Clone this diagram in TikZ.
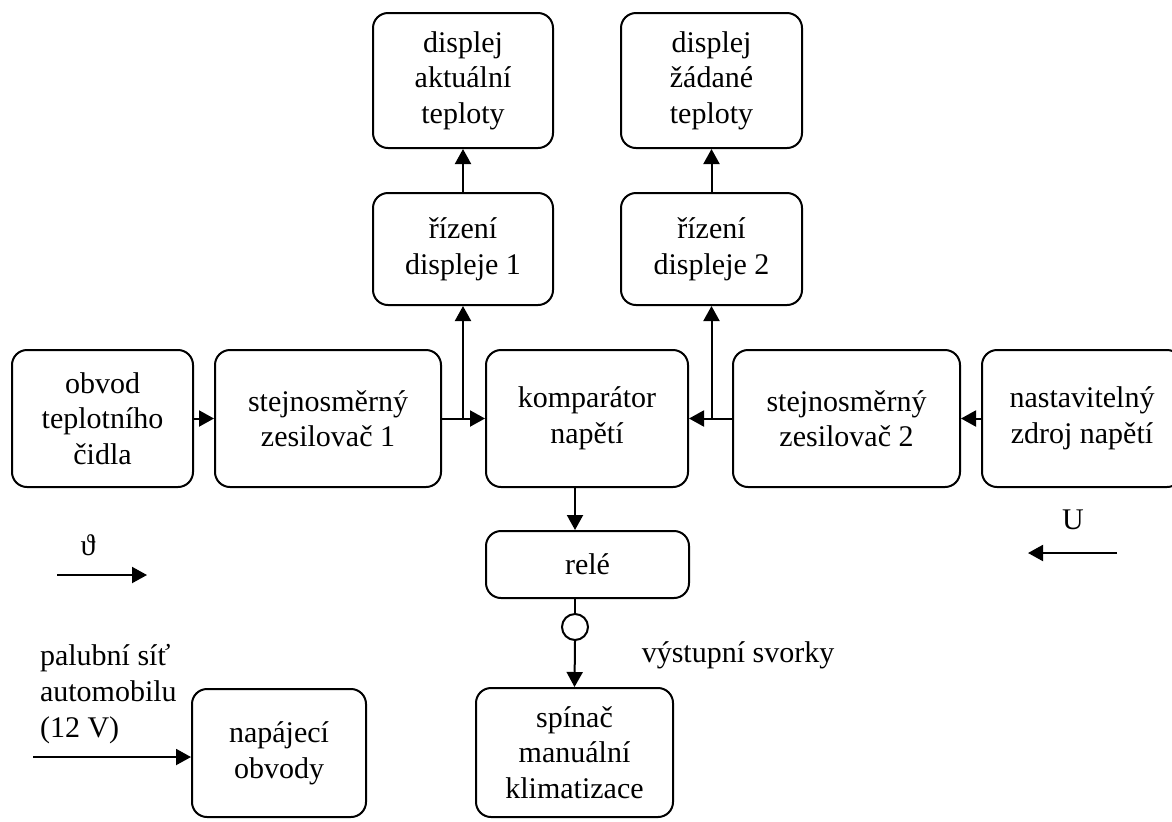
\documentclass[tikz,border=0pt]{standalone}
\usepackage{fontspec}
\setmainfont{Liberation Serif}
\usetikzlibrary{arrows.meta}
\begin{document}
\begin{tikzpicture}[x=0.5pt,y=-0.5pt,
    blok/.style={draw, line width=1pt, rounded corners=7.5pt, align=center,
                 inner sep=0pt, font=\fontsize{15}{17.8}\selectfont},
    sipka/.style={line width=1pt, -{Triangle[length=7.5pt,width=8pt]}},
    popis/.style={font=\fontsize{15}{17.8}\selectfont}]
    \useasboundingbox (0,0) rectangle (1172,821);

    % Top row: displays
    \node[blok, minimum width=90pt, minimum height=67.5pt] (disp1) at (463,80.5) {displej\\aktuální\\teploty};
    \node[blok, minimum width=90.5pt, minimum height=67.5pt] (disp2) at (711.5,80.5) {displej\\žádané\\teploty};

    % Display drivers
    \node[blok, minimum width=90pt, minimum height=56pt] (riz1) at (463,249) {řízení\\displeje 1};
    \node[blok, minimum width=90.5pt, minimum height=56pt] (riz2) at (711.5,249) {řízení\\displeje 2};

    % Middle row
    \node[blok, minimum width=90.5pt, minimum height=68.5pt] (obvod) at (102.5,418.5) {obvod\\teplotního\\čidla};
    \node[blok, minimum width=113pt, minimum height=68.5pt] (zes1) at (328,418.5) {stejnosměrný\\zesilovač 1};
    \node[blok, minimum width=101pt, minimum height=68.5pt] (komp) at (587,418.5) {komparátor\\napětí};
    \node[blok, minimum width=113.5pt, minimum height=68.5pt] (zes2) at (846.5,418.5) {stejnosměrný\\zesilovač 2};
    \node[blok, minimum width=100pt, minimum height=68.5pt] (nast) at (1082,418.5) {nastavitelný\\zdroj napětí};

    % Relay and outputs
    \node[blok, minimum width=101.5pt, minimum height=33.5pt] (rele) at (587.5,564.5) {relé};
    \node[draw, circle, line width=1pt, minimum size=13pt, inner sep=0pt] (svorka) at (575,627) {};
    \node[blok, minimum width=98.5pt, minimum height=64.5pt] (spin) at (574.5,752.5) {spínač\\manuální\\klimatizace};
    \node[blok, minimum width=87pt, minimum height=64pt] (napaj) at (279,753) {napájecí\\obvody};

    % Labels
    \node[popis] (vyst) at (738,655) {výstupní svorky};
    \node[popis, anchor=west, align=left] (sit) at (33,694) {palubní síť\\automobilu\\(12 V)};
    \node[popis] (theta) at (88,545) {ϑ};
    \node[popis] (napU) at (1073,520) {U};

    % Connections
    \draw[sipka] (obvod.east) -- (zes1.west);
    \draw[sipka] (zes1.east) -- (komp.west);
    \coordinate (j1) at (riz1.south |- komp.west);
    \draw[sipka] (j1) -- (riz1.south);
    \draw[sipka] (riz1.north) -- (disp1.south);
    \draw[sipka] (nast.west) -- (zes2.east);
    \draw[sipka] (zes2.west) -- (komp.east);
    \coordinate (j2) at (riz2.south |- komp.east);
    \draw[sipka] (j2) -- (riz2.south);
    \draw[sipka] (riz2.north) -- (disp2.south);
    \draw[sipka] (komp.south -| svorka.north) -- (rele.north -| svorka.north);
    \draw[line width=1pt] (rele.south -| svorka.north) -- (svorka.north);
    \draw[sipka] (svorka.south) -- (spin.north);

    % Free arrows
    \coordinate (t1) at (57,575);
    \coordinate (t2) at (147,575);
    \draw[sipka] (t1) -- (t2);
    \coordinate (u1) at (1117,553);
    \coordinate (u2) at (1028,553);
    \draw[sipka] (u1) -- (u2);
    \coordinate (vstup) at (33,757);
    \draw[sipka] (vstup) -- (vstup -| napaj.west);
\end{tikzpicture}
\end{document}
